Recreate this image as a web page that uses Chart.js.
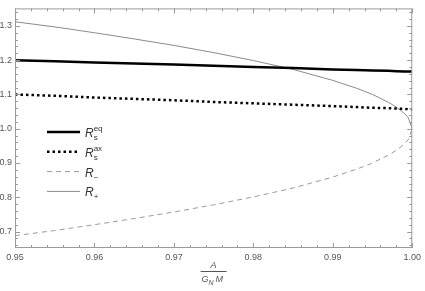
<!DOCTYPE html>
<html>
<head>
<meta charset="utf-8">
<script src="https://cdn.jsdelivr.net/npm/chart.js@4/dist/chart.umd.min.js"></script>
<style>
  html, body { margin: 0; padding: 0; background: #fff; }
  #wrap { width: 425px; height: 291px; }
</style>
</head>
<body>
<div id="wrap"><canvas id="chart"></canvas></div>
<script>
// spin parameter A / (G_N M)
const aValues = [0.95, 0.955, 0.96, 0.965, 0.97, 0.975, 0.98, 0.985, 0.99, 0.993, 0.995, 0.997, 0.998, 0.999, 0.9995, 1.0];
const rEq = [1.200, 1.197, 1.193, 1.190, 1.187, 1.184, 1.180, 1.177, 1.173, 1.171, 1.170, 1.169, 1.168, 1.167, 1.167, 1.167];
const rAx = [1.100, 1.096, 1.091, 1.087, 1.083, 1.078, 1.074, 1.070, 1.066, 1.063, 1.061, 1.060, 1.059, 1.058, 1.057, 1.057];
const rMinus = [0.688, 0.703, 0.720, 0.738, 0.757, 0.778, 0.801, 0.827, 0.859, 0.882, 0.900, 0.923, 0.937, 0.955, 0.968, 1.0];
const rPlus = [1.312, 1.297, 1.280, 1.262, 1.243, 1.222, 1.199, 1.173, 1.141, 1.118, 1.100, 1.077, 1.063, 1.045, 1.032, 1.0];

const xTicks = [0.95, 0.96, 0.97, 0.98, 0.99, 1.0];
const xTickLabels = ["0.95", "0.96", "0.97", "0.98", "0.99", "1.00"];
const yTicks = [0.7, 0.8, 0.9, 1.0, 1.1, 1.2, 1.3];
const yTickLabels = ["0.7", "0.8", "0.9", "1.0", "1.1", "1.2", "1.3"];

// legend entries: base, subscript, superscript
const legendItems = [
  ["R", "s", "eq"],
  ["R", "s", "ax"],
  ["R", "\u2212", ""],
  ["R", "+", ""],
];

const points = (ys) => aValues.map((a, i) => ({ x: a, y: ys[i] }));

const frameColor = "#9a9a9a";

// inward ticks on all four sides + frame
const framePlugin = {
  id: "frame",
  afterDatasetsDraw(chart) {
    const { ctx, chartArea: ca, scales } = chart;
    const xs = scales.x, ys = scales.y;
    ctx.save();
    ctx.strokeStyle = frameColor;
    ctx.lineWidth = 1;
    ctx.strokeRect(ca.left + 0.5, ca.top + 0.5, ca.right - ca.left - 1, ca.bottom - ca.top - 1);
    ctx.beginPath();
    for (let i = 0; i <= 25; i++) {
      const v = 0.95 + i * 0.002;
      const len = i % 5 === 0 ? 5 : 3;
      const px = Math.round(xs.getPixelForValue(v)) + 0.5;
      ctx.moveTo(px, ca.bottom); ctx.lineTo(px, ca.bottom - len);
      ctx.moveTo(px, ca.top); ctx.lineTo(px, ca.top + len);
    }
    for (let i = 0; i <= 35; i++) {
      const v = 0.66 + i * 0.02;
      if (v > ys.max) break;
      const major = Math.abs(v * 10 - Math.round(v * 10)) < 1e-6;
      const len = major ? 5 : 3;
      const py = Math.round(ys.getPixelForValue(v)) + 0.5;
      ctx.moveTo(ca.left, py); ctx.lineTo(ca.left + len, py);
      ctx.moveTo(ca.right, py); ctx.lineTo(ca.right - len, py);
    }
    ctx.stroke();
    ctx.restore();
  },
  afterDraw(chart) {
    const { ctx, chartArea: ca } = chart;
    ctx.save();
    // legend
    chart.data.datasets.forEach((ds, i) => {
      const y = 132 + i * 19.8;
      ctx.beginPath();
      ctx.strokeStyle = ds.borderColor;
      ctx.lineWidth = ds.borderWidth;
      ctx.setLineDash(ds.borderDash || []);
      ctx.moveTo(47, y); ctx.lineTo(80, y);
      ctx.stroke();
      ctx.setLineDash([]);
      const [base, sub, sup] = legendItems[i];
      ctx.fillStyle = "#333";
      ctx.textBaseline = "alphabetic";
      ctx.textAlign = "left";
      ctx.font = "italic 12px 'Liberation Sans', Arial, sans-serif";
      ctx.fillText(base, 85, y + 5);
      const w = ctx.measureText(base).width;
      ctx.font = "8px 'Liberation Sans', Arial, sans-serif";
      ctx.fillText(sub, 85 + w, y + 8);
      if (sup) ctx.fillText(sup, 85 + w, y - 1);
    });
    // axis label A / (G_N M)
    const cx = (ca.left + ca.right) / 2;
    ctx.fillStyle = "#555";
    ctx.textAlign = "center";
    ctx.font = "italic 9px 'Liberation Sans', Arial, sans-serif";
    ctx.fillText("A", cx, 268);
    ctx.strokeStyle = "#555";
    ctx.lineWidth = 1;
    ctx.beginPath();
    ctx.moveTo(cx - 13, 271.5); ctx.lineTo(cx + 13, 271.5);
    ctx.stroke();
    ctx.textAlign = "left";
    ctx.fillText("G", cx - 12, 282);
    ctx.font = "italic 7px 'Liberation Sans', Arial, sans-serif";
    ctx.fillText("N", cx - 5, 285);
    ctx.font = "italic 9px 'Liberation Sans', Arial, sans-serif";
    ctx.fillText("M", cx + 2, 282);
    ctx.restore();
  },
};

new Chart(document.getElementById("chart"), {
  type: "line",
  data: {
    datasets: [
      { label: "Rs eq", data: points(rEq), borderColor: "#000", borderWidth: 2.5 },
      { label: "Rs ax", data: points(rAx), borderColor: "#000", borderWidth: 2.5, borderDash: [2.5, 3] },
      { label: "R-", data: points(rMinus), borderColor: "#9a9a9a", borderWidth: 1, borderDash: [5, 4] },
      { label: "R+", data: points(rPlus), borderColor: "#8a8a8a", borderWidth: 1 },
    ],
  },
  options: {
    responsive: true,
    maintainAspectRatio: false,
    animation: false,
    elements: {
      point: { radius: 0 },
      line: { tension: 0, fill: false },
    },
    layout: {
      autoPadding: false,
      padding: { left: 0, right: 10, top: 1, bottom: 0 },
    },
    plugins: {
      legend: { display: false },
      tooltip: { enabled: false },
    },
    scales: {
      x: {
        type: "linear",
        min: 0.95,
        max: 1.0,
        grid: { display: false, drawTicks: false },
        border: { display: false },
        afterFit: (s) => { s.height = 43; },
        afterBuildTicks: (s) => { s.ticks = xTicks.map((v) => ({ value: v })); },
        ticks: {
          color: "#555",
          font: { family: "'Liberation Sans', Arial, sans-serif", size: 9 },
          padding: 4,
          maxRotation: 0,
          autoSkip: false,
          callback: (v) => xTickLabels[xTicks.findIndex((t) => Math.abs(t - v) < 1e-9)],
        },
      },
      y: {
        type: "linear",
        min: 0.652,
        max: 1.351,
        grid: { display: false, drawTicks: false },
        border: { display: false },
        afterFit: (s) => { s.width = 15; },
        afterBuildTicks: (s) => { s.ticks = yTicks.map((v) => ({ value: v })); },
        ticks: {
          color: "#555",
          font: { family: "'Liberation Sans', Arial, sans-serif", size: 9 },
          padding: 3,
          autoSkip: false,
          callback: (v) => yTickLabels[yTicks.findIndex((t) => Math.abs(t - v) < 1e-9)],
        },
      },
    },
  },
  plugins: [framePlugin],
});
</script>
</body>
</html>
